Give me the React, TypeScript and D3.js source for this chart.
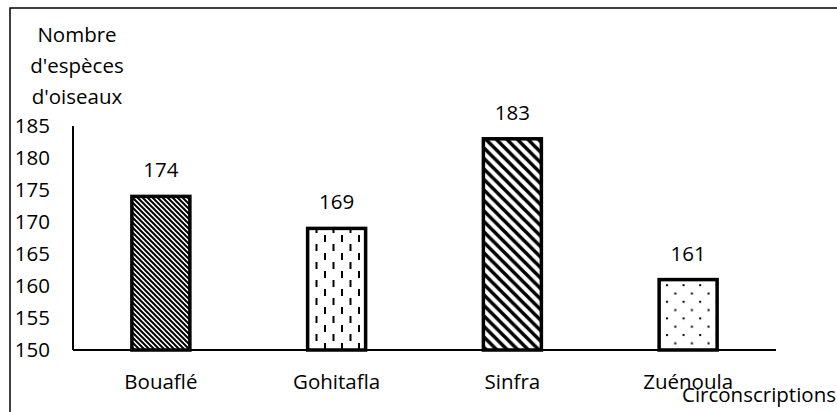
import { useEffect, useRef } from "react";
import * as d3 from "d3";

const categories = ["Bouaflé", "Gohitafla", "Sinfra", "Zuénoula"];
const values = [174, 169, 183, 161];
const yTicks = [150, 155, 160, 165, 170, 175, 180, 185];
const titleLines = ["Nombre", "d'espèces", "d'oiseaux"];
const patternIds = ["pat-dense", "pat-dash", "pat-wide", "pat-dots"];

const FONT = "'Open Sans', sans-serif";
const FS = 20.5;

export default function App() {
  const ref = useRef<SVGSVGElement>(null);
  const width = 837;
  const height = 412;
  const axisLeft = 73;
  const axisRight = 776;
  const base = 350;
  const top = 126;

  useEffect(() => {
    const svg = d3.select(ref.current);
    svg.selectAll("*").remove();

    const defs = svg.append("defs");

    // fine downward diagonal
    const p1 = defs
      .append("pattern")
      .attr("id", "pat-dense")
      .attr("patternUnits", "userSpaceOnUse")
      .attr("width", 5)
      .attr("height", 5);
    p1.append("rect").attr("width", 5).attr("height", 5).attr("fill", "#fff");
    p1.append("path")
      .attr("d", "M0,0L5,5M-1.25,3.75L1.25,6.25M3.75,-1.25L6.25,1.25")
      .attr("stroke", "#000")
      .attr("stroke-width", 2);

    // dashed vertical
    const p2 = defs
      .append("pattern")
      .attr("id", "pat-dash")
      .attr("patternUnits", "userSpaceOnUse")
      .attr("width", 17)
      .attr("height", 18);
    p2.append("rect").attr("width", 17).attr("height", 18).attr("fill", "#fff");
    p2.append("rect").attr("x", 1).attr("y", 1).attr("width", 2).attr("height", 7).attr("fill", "#000");
    p2.append("rect").attr("x", 9.5).attr("y", 10).attr("width", 2).attr("height", 7).attr("fill", "#000");

    // wide downward diagonal
    const s = 10.5;
    const p3 = defs
      .append("pattern")
      .attr("id", "pat-wide")
      .attr("patternUnits", "userSpaceOnUse")
      .attr("width", s)
      .attr("height", s);
    p3.append("rect").attr("width", s).attr("height", s).attr("fill", "#fff");
    p3.append("path")
      .attr("d", `M0,0L${s},${s}M${-s / 4},${(3 * s) / 4}L${s / 4},${(5 * s) / 4}M${(3 * s) / 4},${-s / 4}L${(5 * s) / 4},${s / 4}`)
      .attr("stroke", "#000")
      .attr("stroke-width", 3.5);

    // dots
    const p4 = defs
      .append("pattern")
      .attr("id", "pat-dots")
      .attr("patternUnits", "userSpaceOnUse")
      .attr("width", 16.6)
      .attr("height", 16.6);
    p4.append("rect").attr("width", 16.6).attr("height", 16.6).attr("fill", "#fff");
    p4.append("rect").attr("x", 2).attr("y", 2).attr("width", 2).attr("height", 2).attr("fill", "#000");
    p4.append("rect").attr("x", 10.3).attr("y", 10.3).attr("width", 2).attr("height", 2).attr("fill", "#000");

    const x = d3
      .scaleBand()
      .domain(categories)
      .range([axisLeft, axisRight])
      .paddingInner(0.67)
      .paddingOuter(0.335);

    const y = d3.scaleLinear().domain([150, 185]).range([base, top]);

    // outer frame
    svg
      .append("rect")
      .attr("x", 10)
      .attr("y", 8)
      .attr("width", 840)
      .attr("height", 420)
      .attr("fill", "none")
      .attr("stroke", "#000")
      .attr("stroke-width", 1.5);

    // bars
    svg
      .selectAll(".bar")
      .data(categories)
      .join("rect")
      .attr("class", "bar")
      .attr("x", (d) => x(d) ?? 0)
      .attr("y", (_, i) => y(values[i]))
      .attr("width", x.bandwidth())
      .attr("height", (_, i) => y(150) - y(values[i]))
      .attr("fill", (_, i) => `url(#${patternIds[i]})`)
      .attr("stroke", "#000")
      .attr("stroke-width", 3.5);

    // value labels
    svg
      .selectAll(".val")
      .data(categories)
      .join("text")
      .attr("class", "val")
      .attr("x", (d) => (x(d) ?? 0) + x.bandwidth() / 2)
      .attr("y", (_, i) => y(values[i]) - 19)
      .attr("text-anchor", "middle")
      .attr("font-family", FONT)
      .attr("font-size", FS)
      .text((_, i) => values[i]);

    // y axis
    const yAxis = svg
      .append("g")
      .attr("transform", `translate(${axisLeft},0)`)
      .call(d3.axisLeft(y).tickValues(yTicks).tickSize(0).tickPadding(23));
    yAxis.select(".domain").attr("stroke", "#000").attr("stroke-width", 2).attr("d", `M0,${top}V${base}`);
    yAxis.selectAll("text").attr("font-family", FONT).attr("font-size", FS).attr("fill", "#000");

    // x axis
    const xAxis = svg
      .append("g")
      .attr("transform", `translate(0,${base})`)
      .call(d3.axisBottom(x).tickSize(0).tickPadding(24));
    xAxis.select(".domain").attr("stroke", "#000").attr("stroke-width", 2).attr("d", `M${axisLeft},0H${axisRight}`);
    xAxis.selectAll("text").attr("font-family", FONT).attr("font-size", FS).attr("fill", "#000");

    // y title
    svg
      .append("g")
      .selectAll("text")
      .data(titleLines)
      .join("text")
      .attr("x", 77)
      .attr("y", (_, i) => 42 + i * 31)
      .attr("text-anchor", "middle")
      .attr("font-family", FONT)
      .attr("font-size", FS)
      .text((d) => d);

    // x title
    svg
      .append("text")
      .attr("x", 836)
      .attr("y", 402)
      .attr("text-anchor", "end")
      .attr("font-family", FONT)
      .attr("font-size", FS)
      .text("Circonscriptions");
  }, []);

  return (
    <svg
      ref={ref}
      width={width}
      height={height}
      style={{ position: "absolute", left: 0, top: 0, background: "#fff" }}
    />
  );
}
